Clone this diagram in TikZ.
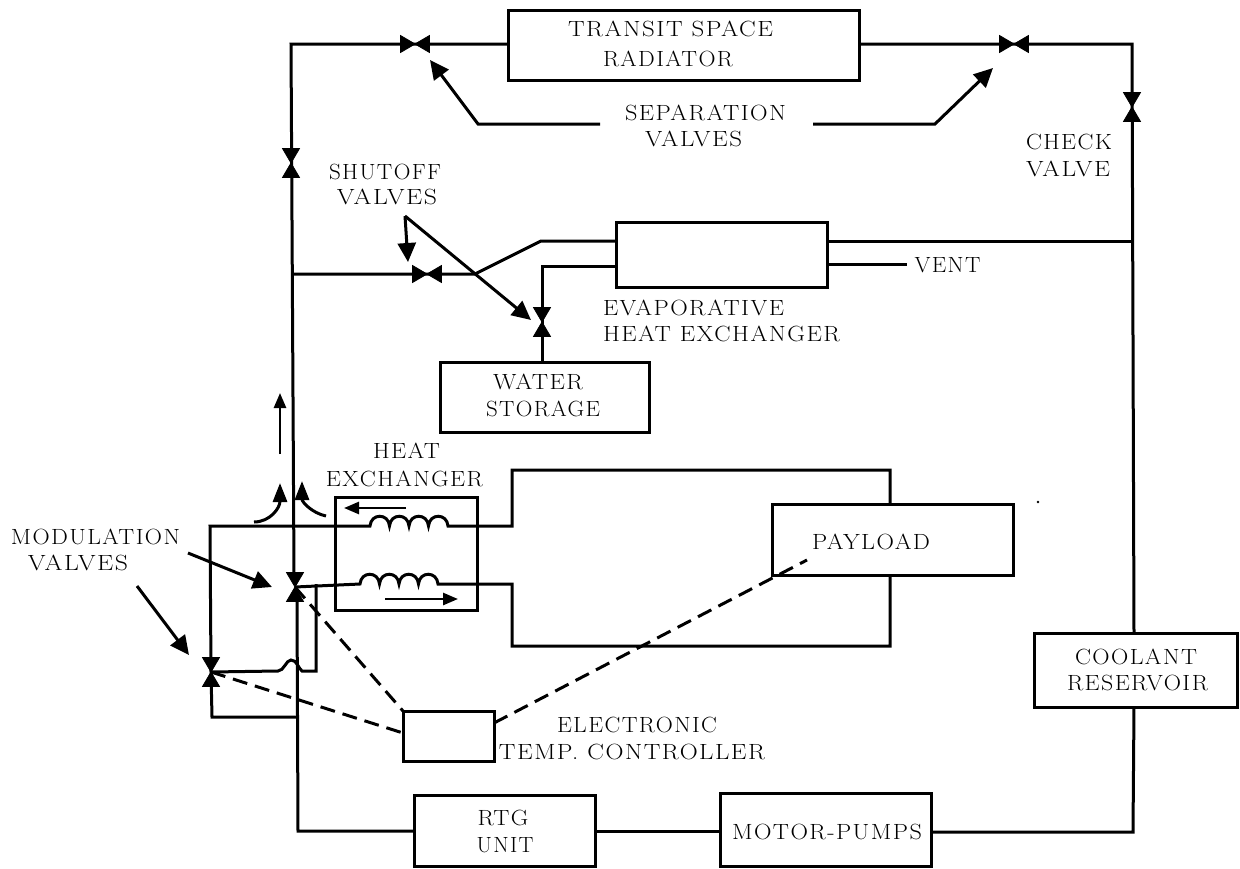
\documentclass[tikz,border=0pt]{standalone}
\usepackage{fontspec}
\setmainfont{Latin Modern Roman}[LetterSpace=6]
\usetikzlibrary{arrows.meta}
\tikzset{
  x=1pt,y=-1pt,
  pipe/.style={line width=3pt,line join=miter},
  box/.style={draw,line width=3pt,inner sep=0,outer sep=0,anchor=north west},
  lab/.style={font=\fontsize{22}{26}\selectfont,inner sep=0,outer sep=0,anchor=base},
  call/.style={line width=3pt,-{Triangle[length=19pt,width=18pt]}},
  flow/.style={line width=2.6pt,-{Triangle[length=15pt,width=12pt]}},
  flowcurve/.style={line width=3pt,-{Triangle[length=19pt,width=14pt]}},
  ctrl/.style={line width=3pt,dash pattern=on 15pt off 8pt},
  valveh/.pic={\filldraw[line width=.8pt] (-14.5,-8.5)--(14.5,8.5)--(14.5,-8.5)--(-14.5,8.5)--cycle;},
  valvev/.pic={\filldraw[line width=.8pt] (-8.5,-14.5)--(8.5,14.5)--(-8.5,14.5)--(8.5,-14.5)--cycle;}
}
\newcommand{\boxnode}[5]{\node[box,minimum width=#4-#2,minimum height=#5-#3] (#1) at (#2,#3) {};}
% name, centre x, centre y of capitals, width, text
\newcommand{\tline}[5]{\node[lab] (#1) at (#2,{#3+7.5}) {\resizebox{#4pt}{\height}{#5}};}
\newcommand{\coilsegs}{%
  .. controls +(1,-13) and +(-1,-13) .. ++(19.5,0)
  .. controls +(1,-13) and +(-1,-13) .. ++(19.5,0)
  .. controls +(1,-13) and +(-1,-13) .. ++(19.5,0)
  .. controls +(1,-13) and +(-1,-13) .. ++(19.5,0)}
\begin{document}
\begin{tikzpicture}
\useasboundingbox (0,0) rectangle (1240,868);
% boxes
\boxnode{rad}{508}{10}{859}{80}
\boxnode{evap}{616}{222}{827}{287}
\boxnode{water}{440}{362}{649}{432}
\boxnode{hx}{335}{497}{477}{610}
\boxnode{pay}{772}{504}{1013}{575}
\boxnode{ctl}{403}{711}{494}{761}
\boxnode{rtg}{414}{795}{595}{866}
\boxnode{pump}{720}{793}{931}{866}
\boxnode{res}{1034}{633}{1237}{707}
% junction coordinates
\coordinate (tl) at (291,44);
\coordinate (tr) at (1132,44);
\coordinate (vsep1) at (415,44);
\coordinate (vsep2) at (1014,44);
\coordinate (vchk) at (1132,107);
\coordinate (vleft) at (291,163);
\coordinate (vmod) at (295,587);
\coordinate (vmod2) at (211,672);
\coordinate (vshut) at (427,274);
\coordinate (vwat) at (542,322);
\coordinate (vent) at (907,264);
% main loop
\draw[pipe] (rad.west|-tl) -- (tl) -- (294,574);
\draw[pipe] (rad.east|-tr) -- (tr) -- (1134,633);
\draw[pipe] (1134,707) -- (1133,832) -- (pump.east|-0,832);
\draw[pipe] (pump.west|-0,831) -- (rtg.east|-0,831);
\draw[pipe] (rtg.west|-0,831) -- (298,831) -- (297,600);
% evaporative
\draw[pipe] (291,274) -- (475,274) -- (541,241) -- (evap.west|-0,241);
\draw[pipe] (evap.west|-0,266) -- (542,266) -- (vwat) -- (water.north-|vwat);
\draw[pipe] (evap.east|-0,241) -- (1132,241);
\draw[pipe] (evap.east|-0,264) -- (vent);
% heat exchanger piping
\draw[pipe] (vmod2) -- (210,526) -- (370,526) \coilsegs
  -- (512,526) -- (512,470) -- (890,470) -- (pay.north-|890,0);
\draw[pipe] (vmod) -- (360,584) \coilsegs
  -- (512,584) -- (512,646) -- (890,646) -- (pay.south-|890,0);
\draw[pipe] (316,584) -- (316,671) -- (302,671) .. controls (298,668) and (297,660) .. (291,660)
  .. controls (286,660) and (284,671) .. (278,671) -- (vmod2);
\draw[pipe] (vmod2) -- (212,717) -- (297,717);
% valves
\pic at (vsep1) {valveh};
\pic at (vsep2) {valveh};
\pic at (vchk) {valvev};
\pic at (vleft) {valvev};
\pic at (vshut) {valveh};
\pic at (vwat) {valvev};
\pic at (vmod) {valvev};
\pic at (vmod2) {valvev};
% callouts
\coordinate (shutfork) at (405,216);
\draw[call] (600,124) -- (478,124) -- (430,60);
\draw[call] (813,124) -- (935,124) -- (993,68);
\draw[call] (shutfork) -- (408,262);
\draw[call] (shutfork) -- (531,320);
\draw[call] (188,553) -- (272,587);
\draw[call] (137,586) -- (189,655);
% flow arrows
\draw[flow] (280,454) -- (280,393);
\draw[flowcurve] (254,522) .. controls (270,522) and (280,508) .. (280,483);
\draw[flowcurve] (326,516) .. controls (312,513) and (302,502) .. (302,481);
\draw[flow] (406,508) -- (344,508);
\draw[flow] (385,599) -- (458,599);
% control lines
\draw[ctrl] (vmod) -- (ctl.north west);
\draw[ctrl] (vmod2) -- (ctl.west|-0,733);
\draw[ctrl] (ctl.east|-0,723) -- (807,560);
% scan speck
\fill (1038,502) circle (1.3);
% labels
\tline{t1a}{670.5}{29}{205}{TRANSIT SPACE}
\tline{t1b}{668}{59}{130}{RADIATOR}
\tline{t2a}{705.5}{113}{161}{SEPARATION}
\tline{t2b}{693.5}{139}{97}{VALVES}
\tline{t3a}{1069}{142}{86}{CHECK}
\tline{t3b}{1068}{169}{84}{VALVE}
\tline{t4a}{385}{172}{112}{SHUTOFF}
\tline{t4b}{387}{197}{100}{VALVES}
\tline{t5}{947.5}{265}{66}{VENT}
\tline{t6a}{693.5}{308}{181}{EVAPORATIVE}
\tline{t6b}{721.5}{334}{237}{HEAT EXCHANGER}
\tline{t7a}{538}{382}{90}{WATER}
\tline{t7b}{543}{409}{114}{STORAGE}
\tline{t8a}{406.5}{451}{67}{HEAT}
\tline{t8b}{404.5}{479}{157}{EXCHANGER}
\tline{t9a}{95.5}{537}{169}{MODULATION}
\tline{t9b}{78}{563}{100}{VALVES}
\tline{t10}{871}{542}{118}{PAYLOAD}
\tline{t11a}{637}{725}{160}{ELECTRONIC}
\tline{t11b}{632}{752}{266}{TEMP. CONTROLLER}
\tline{t12a}{503}{818}{51}{RTG}
\tline{t12b}{505}{845}{57}{UNIT}
\tline{t13}{827}{832}{190}{MOTOR-PUMPS}
\tline{t14a}{1136}{657}{122}{COOLANT}
\tline{t14b}{1137.5}{683}{141}{RESERVOIR}
\end{tikzpicture}
\end{document}
